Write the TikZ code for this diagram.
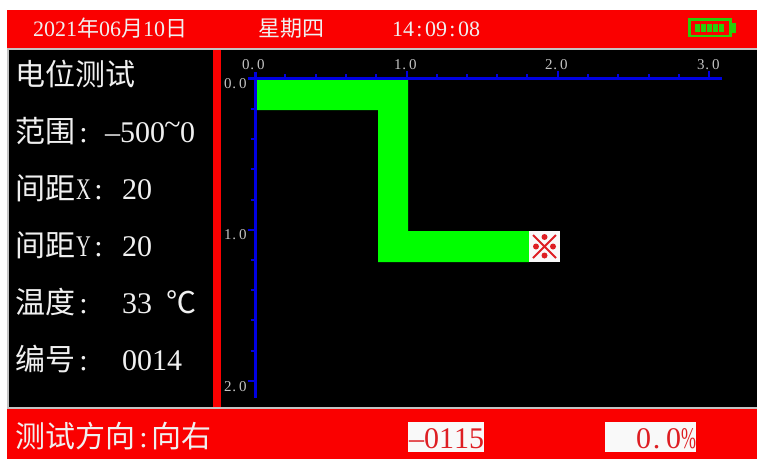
\documentclass[tikz,border=0pt]{standalone}
\usepackage{fontspec}
\usepackage{graphicx}
\setmainfont{Liberation Serif}
\newfontfamily\cjk{Noto Sans CJK SC}
\newcommand\mono[1]{\monoi#1\relax}
\def\monoi#1{\ifx#1\relax\else\makebox[.5em]{#1}\expandafter\monoi\fi}
\newcommand\dotc{\makebox[.5em][l]{\hspace{.06em}.}}
\newcommand\narrow[1]{\makebox[.5em]{\scalebox{.68}[1]{#1}}}
\newcommand\sz[1]{\fontsize{#1}{#1}\selectfont}
\definecolor{scrred}{RGB}{250,0,0}
\definecolor{rimgray}{RGB}{195,195,195}
\definecolor{axblue}{RGB}{0,0,225}
\definecolor{pathgreen}{RGB}{0,255,0}
\definecolor{batgreen}{RGB}{40,205,10}
\definecolor{markred}{RGB}{222,30,35}
\definecolor{lcdwhite}{RGB}{240,240,240}
\tikzset{
  txt/.style={anchor=base west,inner sep=0pt,outer sep=0pt,text=lcdwhite},
  head/.style={txt,font=\sz{22}},
  side/.style={txt,font=\sz{30}},
  axlab/.style={anchor=base west,inner sep=0pt,outer sep=0pt,text=rimgray,font=\sz{15}},
  readout/.style={anchor=base west,inner sep=0pt,outer sep=0pt,text=markred,font=\sz{30}},
  axline/.style={axblue,line width=3pt},
  tickmark/.style={axblue,line width=2.6pt},
}
\begin{document}
\begin{tikzpicture}[x=1pt,y=-1pt]
\useasboundingbox (0,0) rectangle (757,459);
\fill[white] (0,0) rectangle (757,459);
% screen
\fill[black] (7,48) rectangle (757,408);
\fill[scrred] (7,10) rectangle (757,48);
\fill[scrred] (7,408) rectangle (757,459);
\fill[rimgray] (7,48) rectangle (757,50);
\fill[rimgray] (7,407) rectangle (757,409);
\fill[rimgray] (7,48) rectangle (9,408);
\fill[scrred] (213,50) rectangle (221,407);
% header
\node[head] (date) at (33,36) {\mono{2021}{\cjk 年}\mono{06}{\cjk 月}\mono{10}{\cjk 日}};
\node[head] (week) at (258,36) {\cjk 星期四};
\node[head] (time) at (392,36) {\mono{14:09:08}};
% battery
\draw[batgreen,line width=2.4pt] (689.5,19.5) rectangle (730.5,36);
\fill[batgreen] (731,23) rectangle (736,33);
\foreach \bx in {695,701,707,713,719} \fill[batgreen] (\bx,24) rectangle (\bx+5,32);
% side panel
\node[side] (title) at (16,85) {\cjk 电位测试};
\node[side] (rangel) at (16,142) {{\cjk 范围}\mono{:}};
\node[side] (rangev) at (105,142) {\mono{–500}\raisebox{8pt}{\mono{\textasciitilde}}\mono{0}};
\node[side] (xl) at (16,199) {{\cjk 间距}\narrow{X}\mono{:}};
\node[side] (xv) at (122,199) {\mono{20}};
\node[side] (yl) at (16,256) {{\cjk 间距}\narrow{Y}\mono{:}};
\node[side] (yv) at (122,256) {\mono{20}};
\node[side] (tl) at (16,313) {{\cjk 温度}\mono{:}};
\node[side] (tv) at (122,313) {\mono{33}};
\node[side] (tu) at (166,313) {{\cjk ℃}};
\node[side] (nl) at (16,370) {{\cjk 编号}\mono{:}};
\node[side] (nv) at (122,370) {\mono{0014}};
% footer
\node[side] (dir) at (16,447) {{\cjk 测试方向}\mono{:}{\cjk 向右}};
\fill[lcdwhite!40!white] (408,422) rectangle (484,452);
\node[readout] (val) at (409,448) {\mono{–0115}};
\fill[lcdwhite!40!white] (605,422) rectangle (696,452);
\node[readout] (pct) at (636,448) {\mono{0\dotc 0}\makebox[.5em]{\scalebox{.6}[1]{\%}}};
% path
\fill[pathgreen] (257,80) -- (408,80) -- (408,231) -- (529,231) -- (529,262) -- (378,262) -- (378,110) -- (257,110) -- cycle;
% marker
\fill[lcdwhite!40!white] (529,231) rectangle (560,262);
\draw[markred,line width=2pt] (533,235) -- (556,258) (556,235) -- (533,258);
\foreach \mx/\my in {544.5/237,544.5/255.5,536/246.5,553/246.5} \fill[markred] (\mx,\my) circle (3);
% axes
\draw[axline] (248,78) -- (722,78);
\draw[axline] (255,72) -- (255,398);
\foreach \tx in {407,558,709} \draw[tickmark] (\tx,71) -- (\tx,78);
\foreach \tx in {285,316,346,376,437,467,497,527,588,618,649,679} \draw[tickmark] (\tx,74) -- (\tx,78);
\foreach \ty in {230,381} \draw[tickmark] (248,\ty) -- (255,\ty);
\foreach \ty in {109,139,169,200,260,290,320,351} \draw[tickmark] (250.5,\ty) -- (255,\ty);
\node[axlab] (xa) at (242,69) {\mono{0\dotc 0}};
\node[axlab] (xb) at (394,69) {\mono{1\dotc 0}};
\node[axlab] (xc) at (545,69) {\mono{2\dotc 0}};
\node[axlab] (xd) at (697,69) {\mono{3\dotc 0}};
\node[axlab] (ya) at (224,88) {\mono{0\dotc 0}};
\node[axlab] (yb) at (224,239) {\mono{1\dotc 0}};
\node[axlab] (yc) at (224,391) {\mono{2\dotc 0}};
\end{tikzpicture}
\end{document}
